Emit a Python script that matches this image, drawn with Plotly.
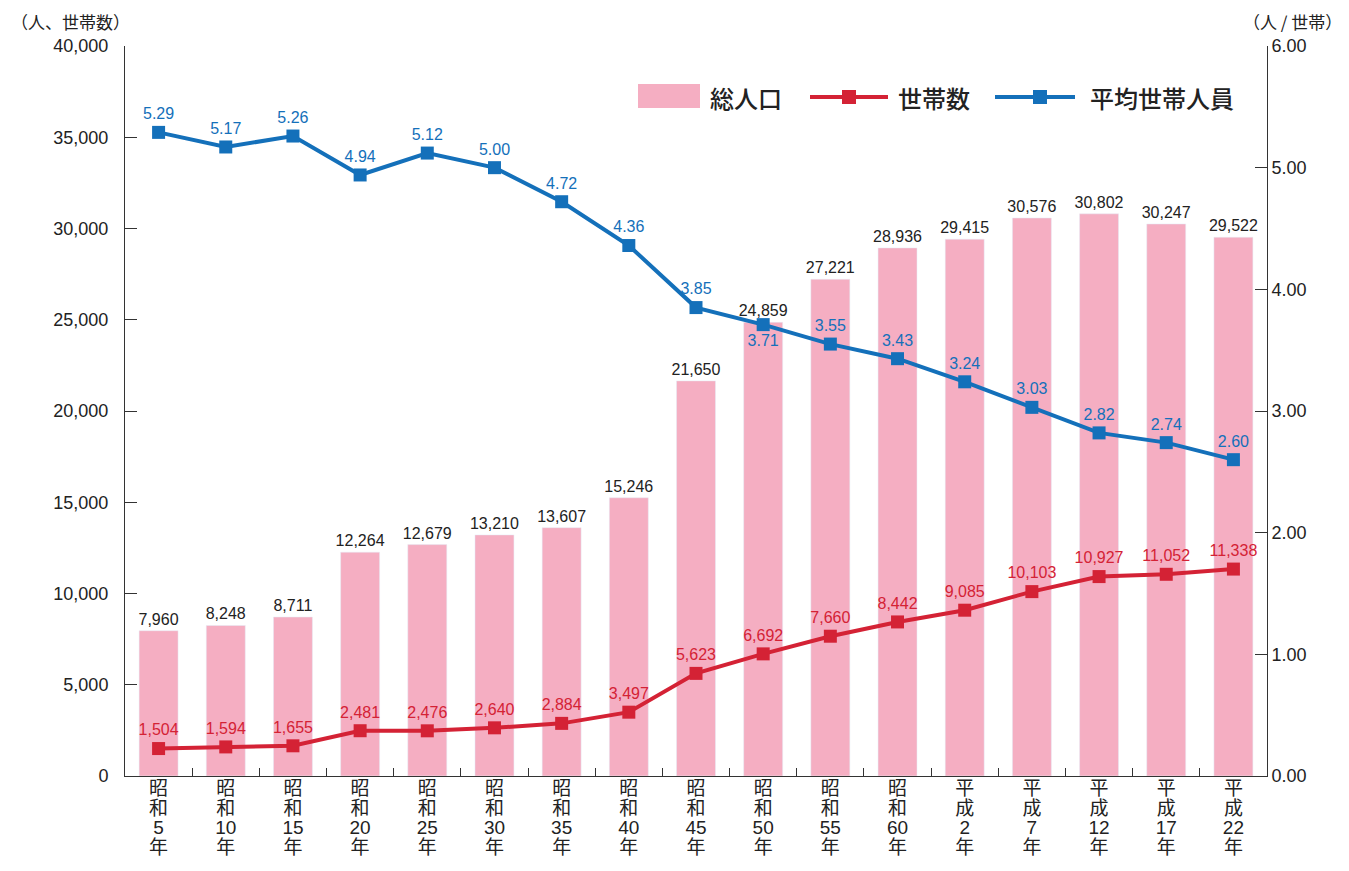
import plotly.graph_objects as go

era = ["昭和"] * 12 + ["平成"] * 5
years = ["5", "10", "15", "20", "25", "30", "35", "40", "45", "50", "55", "60",
         "2", "7", "12", "17", "22"]
population = [7960, 8248, 8711, 12264, 12679, 13210, 13607, 15246, 21650, 24859,
              27221, 28936, 29415, 30576, 30802, 30247, 29522]
households = [1504, 1594, 1655, 2481, 2476, 2640, 2884, 3497, 5623, 6692,
              7660, 8442, 9085, 10103, 10927, 11052, 11338]
avg_size = [5.29, 5.17, 5.26, 4.94, 5.12, 5.00, 4.72, 4.36, 3.85, 3.71,
            3.55, 3.43, 3.24, 3.03, 2.82, 2.74, 2.60]
left_ticks = [0, 5000, 10000, 15000, 20000, 25000, 30000, 35000, 40000]
right_ticks = [0, 1, 2, 3, 4, 5, 6]

def vlabel(e, y):
    parts = [e[0], e[1], y, "年"]
    return "<br>".join(f"<span style='font-size:19px'>{p}</span>" for p in parts)

categories = [vlabel(e, y) for e, y in zip(era, years)]

PINK = "#F5AEC2"
RED = "#D42235"
BLUE = "#1470BA"
AX = "#333333"
FONT = "Liberation Sans, Noto Sans CJK JP, sans-serif"
CJK = "Noto Sans CJK JP, sans-serif"

blue_pos = ["top center"] * len(avg_size)
blue_pos[9] = "bottom center"

fig = go.Figure()
fig.add_trace(go.Bar(
    x=categories, y=population, marker_color=PINK, width=0.58,
    text=[f"{v:,}" for v in population], textposition="outside", constraintext="none",
    textfont=dict(size=16, color="#222222", family=FONT),
    cliponaxis=False, name="総人口", showlegend=False))
fig.add_trace(go.Scatter(
    x=categories, y=households, mode="lines+markers+text",
    line=dict(color=RED, width=4), marker=dict(symbol="square", size=13, color=RED),
    text=[f"{v:,}" for v in households], textposition="top center",
    textfont=dict(size=16, color=RED, family=FONT),
    cliponaxis=False, name="世帯数", showlegend=False))
fig.add_trace(go.Scatter(
    x=categories, y=avg_size, mode="lines+markers+text", yaxis="y2",
    line=dict(color=BLUE, width=4), marker=dict(symbol="square", size=13, color=BLUE),
    text=[f"{v:.2f}" for v in avg_size], textposition=blue_pos,
    textfont=dict(size=16, color=BLUE, family=FONT),
    cliponaxis=False, name="平均世帯人員", showlegend=False))

# page coordinates of plot area (page body has an 8px margin)
W0, W1 = 125, 1267
PW = W1 - W0
def px(xp):
    return (xp - W0) / PW

def py(yp):
    return (776 - yp) / 730

fig.update_layout(
    width=1341, height=863,
    margin=dict(l=117, r=82, t=38, b=95),
    paper_bgcolor="white", plot_bgcolor="white",
    font=dict(family=FONT, color="#222222"),
    xaxis=dict(
        type="category", showline=True, linecolor=AX, linewidth=1,
        ticks="inside", ticklen=8, tickcolor=AX, tickson="boundaries",
        tickfont=dict(size=15, family=FONT, color="#222222"),
        showgrid=False, zeroline=False, range=[-0.5, 16.5], automargin=False),
    yaxis=dict(
        range=[0, 40000], tickvals=left_ticks, tickformat=",",
        showline=True, linecolor=AX, linewidth=1, ticks="inside", ticklen=12,
        tickcolor=AX, showgrid=False, zeroline=False, automargin=False,
        tickfont=dict(size=18, family=FONT, color="#222222"), ticklabelstandoff=12),
    yaxis2=dict(
        range=[0, 6], tickvals=right_ticks, tickformat=".2f", overlaying="y", side="right",
        showline=True, linecolor=AX, linewidth=1, ticks="inside", ticklen=12,
        tickcolor=AX, showgrid=False, zeroline=False, automargin=False,
        tickfont=dict(size=18, family=FONT, color="#222222"), ticklabelstandoff=0),
)

# axis unit titles
fig.add_annotation(text="（人、世帯数）", xref="paper", yref="paper", x=px(9), y=py(21),
                   showarrow=False, xanchor="left", yanchor="middle",
                   font=dict(size=17, family=CJK, color="#222222"))
fig.add_annotation(text="（人 / 世帯）", xref="paper", yref="paper", x=px(1344), y=py(21),
                   showarrow=False, xanchor="right", yanchor="middle",
                   font=dict(size=17, family=CJK, color="#222222"))

# custom legend
ly = 97
LEGF = dict(size=24, family=CJK, color="#222222", weight=500)
fig.add_shape(type="rect", xref="paper", yref="paper", x0=px(638), x1=px(700), y0=py(108), y1=py(84),
              fillcolor=PINK, line_width=0)
fig.add_annotation(text="総人口", xref="paper", yref="paper", x=px(708), y=py(ly), showarrow=False,
                   xanchor="left", yanchor="middle", font=LEGF)
fig.add_shape(type="line", xref="paper", yref="paper", x0=px(810), x1=px(888), y0=py(ly), y1=py(ly),
              line=dict(color=RED, width=4))
fig.add_shape(type="rect", xref="paper", yref="paper", x0=px(842), x1=px(856), y0=py(ly + 7), y1=py(ly - 7),
              fillcolor=RED, line_width=0)
fig.add_annotation(text="世帯数", xref="paper", yref="paper", x=px(896), y=py(ly), showarrow=False,
                   xanchor="left", yanchor="middle", font=LEGF)
fig.add_shape(type="line", xref="paper", yref="paper", x0=px(995), x1=px(1075), y0=py(ly), y1=py(ly),
              line=dict(color=BLUE, width=4))
fig.add_shape(type="rect", xref="paper", yref="paper", x0=px(1033), x1=px(1047), y0=py(ly + 7), y1=py(ly - 7),
              fillcolor=BLUE, line_width=0)
fig.add_annotation(text="平均世帯人員", xref="paper", yref="paper", x=px(1088), y=py(ly), showarrow=False,
                   xanchor="left", yanchor="middle", font=LEGF)

fig.write_html("out.html")
